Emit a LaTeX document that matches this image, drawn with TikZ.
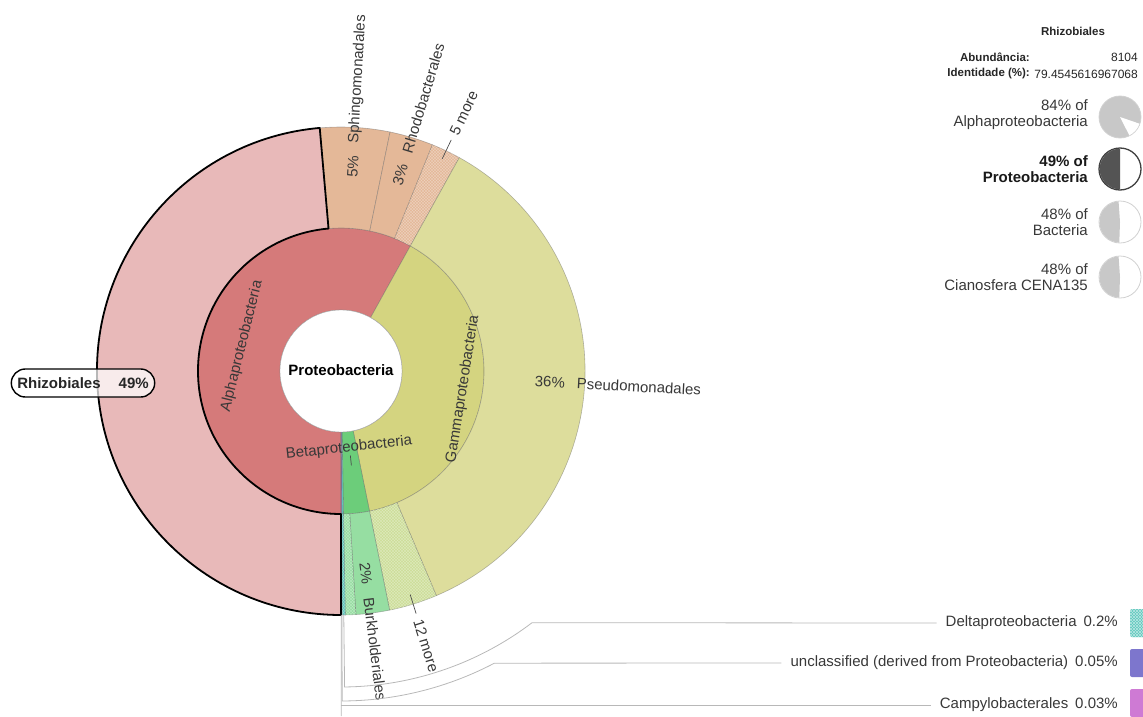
\documentclass[tikz,border=0pt]{standalone}
\usepackage{fontspec}
\setmainfont{Liberation Sans}
\usetikzlibrary{patterns}
\definecolor{alphared}{RGB}{213,122,122}
\definecolor{rhizopink}{RGB}{232,185,185}
\definecolor{alphatan}{RGB}{228,184,152}
\definecolor{gammaolive}{RGB}{212,212,128}
\definecolor{pseudoyellow}{RGB}{221,221,156}
\definecolor{gammamore}{RGB}{204,222,152}
\definecolor{betagreen}{RGB}{108,205,122}
\definecolor{burkgreen}{RGB}{150,222,162}
\definecolor{deltateal}{RGB}{95,200,190}
\definecolor{unclpurple}{RGB}{125,118,205}
\definecolor{campypink}{RGB}{206,122,212}
\definecolor{piegray}{RGB}{200,200,200}
\tikzstyle{myslice}=[fill=#1,draw=black!60,draw opacity=0.45,line width=0.6pt]
\tikzstyle{mymore}=[myslice=#1,postaction={pattern=north east lines,pattern color=white!60!#1},
                    postaction={pattern=north west lines,pattern color=white!60!#1}]
\tikzstyle{mylabel}=[inner sep=0pt,text=black!78,font=\fontsize{15}{17}\selectfont]
\tikzstyle{myradial}=[mylabel,anchor=west]
\tikzstyle{mytick}=[black!70,line width=0.7pt]
\tikzstyle{myleader}=[black!28,line width=0.8pt]
\tikzstyle{mysquare}=[minimum width=26pt,minimum height=28pt,rounded corners=2pt,inner sep=0pt]
\tikzstyle{mypie}=[circle,minimum size=42pt,inner sep=0pt,line width=0.8pt]
\tikzstyle{myinfo}=[inner sep=0pt,font=\bfseries\fontsize{11.5}{13}\selectfont,text=black!85]
\newcommand{\mywedge}[5][]{\path[#1] (#2:#4) arc[start angle=#2,end angle=#3,radius=#4]
  -- (#3:#5) arc[start angle=#3,end angle=#2,radius=#5] -- cycle;}

\begin{document}
\begin{tikzpicture}[x=1pt,y=1pt]
  \def\rHole{61}   % white centre
  \def\rInner{143} % classes
  \def\rOuter{244} % orders
  \useasboundingbox (-341,-345) rectangle (802,371);

  % classes
  \mywedge[myslice=alphared]{270}{61}{\rHole}{\rInner}
  \mywedge[myslice=gammaolive]{61}{-78.5}{\rHole}{\rInner}
  \mywedge[myslice=betagreen]{-78.5}{-89}{\rHole}{\rInner}
  \mywedge[myslice=deltateal]{-89}{-89.7}{\rHole}{\rInner}
  \mywedge[myslice=unclpurple]{-89.7}{-89.88}{\rHole}{\rInner}
  \mywedge[myslice=campypink]{-89.88}{-90}{\rHole}{\rInner}

  % orders
  \mywedge[myslice=rhizopink]{270}{95}{\rInner}{\rOuter}
  \mywedge[myslice=alphatan]{95}{78.4}{\rInner}{\rOuter}
  \mywedge[myslice=alphatan]{78.4}{68}{\rInner}{\rOuter}
  \mywedge[mymore=alphatan]{68}{61}{\rInner}{\rOuter}
  \mywedge[myslice=pseudoyellow]{61}{-67}{\rInner}{\rOuter}
  \mywedge[mymore=gammamore]{-67}{-78.5}{\rInner}{\rOuter}
  \mywedge[myslice=burkgreen]{-78.5}{-86.5}{\rInner}{\rOuter}
  \mywedge[mymore=burkgreen]{-86.5}{-89}{\rInner}{\rOuter}
  \mywedge[mymore=deltateal]{-89}{-89.7}{\rInner}{\rOuter}

  % selected wedge
  \mywedge[draw=black,line width=1.8pt,line join=round]{270}{95}{\rInner}{\rOuter}

  % centre
  \node[circle,draw=black!35,fill=white,minimum size=122pt,inner sep=0pt] (hole) at (0,0) {};
  \node[mylabel,font=\bfseries\fontsize{15}{17}\selectfont,text=black] (proteo) at (0,1) {Proteobacteria};

  % class labels
  \node[mylabel,rotate=76] (alpha) at (-99,25) {Alphaproteobacteria};
  \node[mylabel,rotate=81] (gamma) at (122,-18) {Gammaproteobacteria};
  \node[mylabel,rotate=6.3] (beta) at (8,-77) {Betaproteobacteria};
  \coordinate (betaA) at (-83.7:85);
  \coordinate (betaB) at (-83.7:95);
  \draw[mytick] (betaA) -- (betaB);

  % order labels
  \node[myradial,rotate=86.7] (sphingopct) at (86.7:194) {5\%};
  \node[myradial,rotate=86.7] (sphingo) at (86.7:228) {Sphingomonadales};
  \node[myradial,rotate=73.2] (rhodopct) at (73.2:194) {3\%};
  \node[myradial,rotate=73.2] (rhodo) at (73.2:228) {Rhodobacterales};
  \coordinate (alphamoreA) at (64.5:235);
  \coordinate (alphamoreB) at (64.5:256);
  \draw[mytick] (alphamoreA) -- (alphamoreB);
  \node[myradial,rotate=64.5] (alphamore) at (64.5:262) {5 more};
  \node[myradial,rotate=-3] (pseudopct) at (-3:194) {36\%};
  \node[myradial,rotate=-3] (pseudo) at (-3:236) {Pseudomonadales};
  \coordinate (gammamoreA) at (-72.8:234);
  \coordinate (gammamoreB) at (-72.8:254);
  \draw[mytick] (gammamoreA) -- (gammamoreB);
  \node[myradial,rotate=-72.8] (gammamorelbl) at (-72.8:260) {12 more};
  \node[myradial,rotate=-83] (burkpct) at (-83:193) {2\%};
  \node[myradial,rotate=-83] (burk) at (-83:228) {Burkholderiales};

  % highlighted label
  \node[draw=black,line width=1.4pt,fill=white,fill opacity=0.72,text opacity=1,
        rounded corners=14pt,minimum width=143pt,minimum height=28pt,inner xsep=6pt,
        font=\bfseries\fontsize{15}{17}\selectfont,text=black!85] (rhizo) at (-258,-12)
        {Rhizobiales\hspace{18pt}49\%};

  % small slices
  \node[mylabel,anchor=east] (deltalbl) at (777,-252) {Deltaproteobacteria\hspace{7pt}0.2\%};
  \node[mylabel,anchor=east] (uncllbl) at (777,-292) {unclassified (derived from Proteobacteria)\hspace{7pt}0.05\%};
  \node[mylabel,anchor=east] (campylbl) at (777,-334) {Campylobacterales\hspace{7pt}0.03\%};
  \node[mysquare,fill=deltateal,postaction={pattern=north east lines,pattern color=white!55!deltateal},
        postaction={pattern=north west lines,pattern color=white!55!deltateal}] (deltasq) at (802,-252) {};
  \node[mysquare,fill=unclpurple] (unclsq) at (802,-292) {};
  \node[mysquare,fill=campypink] (campysq) at (802,-332) {};

  \coordinate (deltaA) at (-89.35:\rOuter);
  \coordinate (deltaB) at (-89.35:316);
  \draw[myleader] (deltaA) -- (deltaB) arc[start angle=-89.35,end angle=-52.8,radius=316]
    -- ([xshift=-9pt]deltalbl.west);
  \coordinate (unclA) at (-89.79:\rOuter);
  \coordinate (unclB) at (-89.79:330);
  \draw[myleader] (unclA) -- (unclB) arc[start angle=-89.79,end angle=-62.3,radius=330]
    -- ([xshift=-9pt]uncllbl.west);
  \coordinate (campyA) at (-89.94:\rOuter);
  \coordinate (campyB) at (0.26,-345);
  \coordinate (campyC) at (0.26,-334);
  \draw[myleader] (campyA) -- (campyB);
  \draw[myleader] (campyC) -- ([xshift=-9pt]campylbl.west);

  % info panel
  \node[myinfo] (title) at (732,340) {Rhizobiales};
  \node[myinfo,anchor=east] (abkey) at (689,314) {Abundância:};
  \node[myinfo,anchor=east,font=\fontsize{12}{14}\selectfont] (abval) at (797,314) {8104};
  \node[myinfo,anchor=east] (idkey) at (689,297) {Identidade (\%):};
  \node[myinfo,anchor=east,font=\fontsize{12}{14}\selectfont] (idval) at (797,297) {79.4545616967068};

  % ancestors
  \node[mylabel,anchor=east,align=right,font=\fontsize{15}{16}\selectfont] (alphatxt) at (747,256)
    {84\% of\\Alphaproteobacteria};
  \node[mylabel,anchor=east,align=right,font=\bfseries\fontsize{15}{16}\selectfont,text=black!90] (proteotxt) at (747,202)
    {49\% of\\Proteobacteria};
  \node[mylabel,anchor=east,align=right,font=\fontsize{15}{16}\selectfont] (bacttxt) at (747,149)
    {48\% of\\Bacteria};
  \node[mylabel,anchor=east,align=right,font=\fontsize{15}{16}\selectfont] (cenatxt) at (747,94)
    {48\% of\\Cianosfera CENA135};

  \node[mypie,fill=piegray,draw=black!18] (alphapie) at (779,254) {};
  \fill[white] (alphapie.center) -- ++(-19:20.6) arc[start angle=-19,end angle=-63,radius=20.6] -- cycle;
  \node[mypie,fill=white,draw=black!75,line width=1.3pt] (proteopie) at (779,202) {};
  \fill[black!67] (proteopie.center) -- ++(90:20.3) arc[start angle=90,end angle=270,radius=20.3] -- cycle;
  \node[mypie,fill=white,draw=black!18] (bactpie) at (779,149) {};
  \fill[piegray] (bactpie.center) -- ++(94:20.6) arc[start angle=94,end angle=268,radius=20.6] -- cycle;
  \node[mypie,fill=white,draw=black!18] (cenapie) at (779,94) {};
  \fill[piegray] (cenapie.center) -- ++(94:20.6) arc[start angle=94,end angle=268,radius=20.6] -- cycle;
\end{tikzpicture}
\end{document}
